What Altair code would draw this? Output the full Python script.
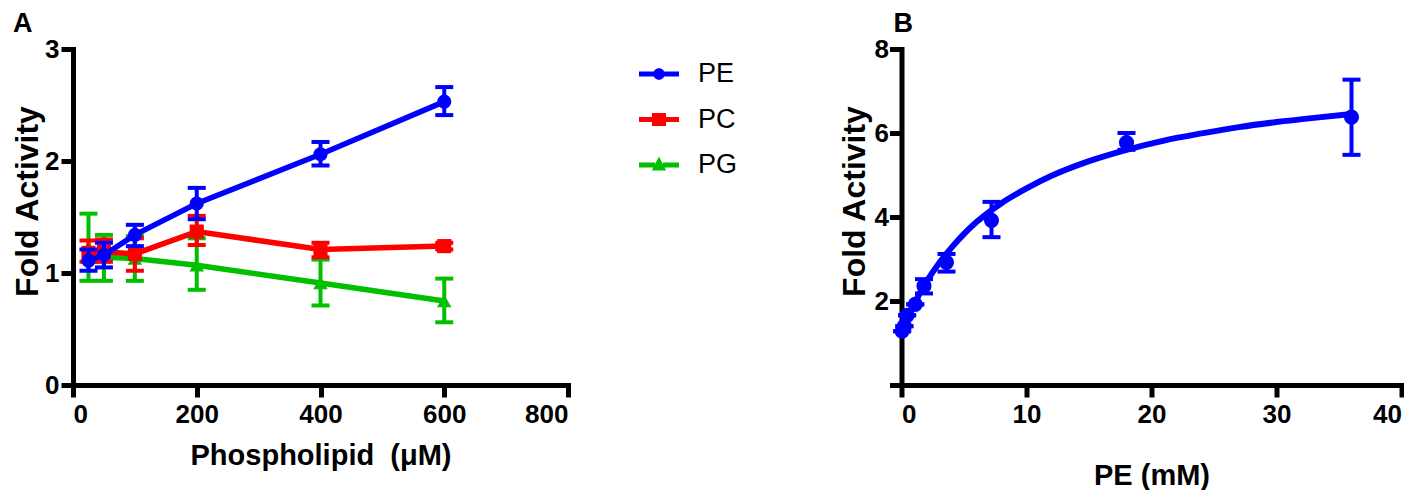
import altair as alt
import pandas as pd

# ---------------- data: panel A ----------------
conc_a = [25, 50, 100, 200, 400, 600]
pe_mean = [1.11, 1.16, 1.34, 1.62, 2.06, 2.53]
pe_lo = [1.02, 1.05, 1.24, 1.48, 1.96, 2.41]
pe_hi = [1.21, 1.27, 1.43, 1.76, 2.17, 2.66]
pc_mean = [1.18, 1.19, 1.17, 1.37, 1.21, 1.24]
pc_lo = [1.10, 1.10, 1.02, 1.25, 1.14, 1.21]
pc_hi = [1.29, 1.30, 1.31, 1.51, 1.27, 1.27]
pg_mean = [1.23, 1.14, 1.13, 1.07, 0.91, 0.75]
pg_lo = [0.93, 0.93, 0.93, 0.85, 0.71, 0.56]
pg_hi = [1.53, 1.34, 1.33, 1.31, 1.12, 0.95]
series_names = ["PE", "PC", "PG"]
series_colors = ["#0000FF", "#FF0000", "#00C000"]

# ---------------- data: panel B ----------------
pe_conc = [0.05, 0.23, 0.45, 1.1, 1.8, 3.6, 7.2, 18, 36]
pe_act = [1.28, 1.40, 1.66, 1.92, 2.36, 2.92, 3.92, 5.77, 6.38]
pe_act_lo = [1.28, 1.40, 1.66, 1.92, 2.18, 2.70, 3.52, 5.60, 5.48]
pe_act_hi = [1.28, 1.40, 1.66, 1.92, 2.52, 3.12, 4.36, 6.00, 7.27]
fit_x = [0, 0.5, 1, 2, 3, 4, 5, 6, 8, 10, 12, 15, 18, 21, 24, 27, 30, 33, 36]
fit_y = [1.25, 1.60, 1.92, 2.46, 2.90, 3.27, 3.60, 3.88, 4.33, 4.68, 4.98,
         5.33, 5.60, 5.82, 5.99, 6.14, 6.26, 6.36, 6.45]

FONT = "Liberation Sans"

rows = []
for name, m, lo, hi in [("PE", pe_mean, pe_lo, pe_hi),
                        ("PC", pc_mean, pc_lo, pc_hi),
                        ("PG", pg_mean, pg_lo, pg_hi)]:
    for c, a, b, d in zip(conc_a, m, lo, hi):
        rows.append({"series": name, "conc": c, "mean": a, "lo": b, "hi": d})
df_a = pd.DataFrame(rows)

df_b = pd.DataFrame({"conc": pe_conc, "act": pe_act, "lo": pe_act_lo, "hi": pe_act_hi})
df_fit = pd.DataFrame({"conc": fit_x, "act": fit_y})

axis_style = dict(
    domainColor="#000000", domainWidth=5, domainCap="square", domainOpacity=1,
    tickColor="#000000", tickWidth=5, tickSize=12, tickOpacity=1,
    labelFont=FONT, labelFontWeight="bold", labelFontSize=26, labelColor="black",
    titleFont=FONT, titleFontWeight="bold", titleColor="black",
    grid=False,
)

# ---------------- panel A ----------------
xs_a = alt.Scale(domain=[0, 800], nice=False, zero=True)
ys_a = alt.Scale(domain=[0, 3], nice=False, zero=True)
ax_xa = alt.Axis(values=[0, 200, 400, 600, 800], format="d", labelPadding=4,
                 titlePadding=14, titleFontSize=29, **axis_style)
ax_ya = alt.Axis(values=[0, 1, 2, 3], format="d", labelPadding=2,
                 titlePadding=0, titleFontSize=32, titleY=152, **axis_style)


def XA():
    return alt.X("conc:Q", scale=xs_a, axis=ax_xa, title="Phospholipid\u00a0 (μM)")


def YA(field):
    return alt.Y(f"{field}:Q", scale=ys_a, axis=ax_ya, title="Fold Activity")


def series_layers(name, color, shape, size):
    base = alt.Chart(df_a).transform_filter(alt.datum.series == name)
    err = base.mark_rule(color=color, strokeWidth=4, opacity=1).encode(
        x=XA(), y=YA("lo"), y2="hi:Q")
    cap_hi = base.mark_tick(color=color, orient="horizontal", size=18, thickness=4,
                            opacity=1).encode(x=XA(), y=YA("hi"))
    cap_lo = base.mark_tick(color=color, orient="horizontal", size=18, thickness=4,
                            opacity=1).encode(x=XA(), y=YA("lo"))
    line = base.mark_line(color=color, strokeWidth=5.5).encode(x=XA(), y=YA("mean"))
    pts = base.mark_point(filled=True, shape=shape, size=size, color=color,
                          opacity=1, strokeWidth=0).encode(x=XA(), y=YA("mean"))
    return [err, cap_hi, cap_lo, line, pts]


# legend symbols: line with marker in the middle
bar_l = "M-1,-0.12H-0.2V0.12H-1Z"
bar_r = "M0.2,-0.12H1V0.12H0.2Z"
sym_circle = bar_l + " " + bar_r + " M-0.29,0A0.29,0.29 0 1,1 0.29,0A0.29,0.29 0 1,1 -0.29,0Z"
sym_square = bar_l + " " + bar_r + " M-0.35,-0.33H0.35V0.33H-0.35Z"
sym_tri = bar_l + " " + bar_r + " M0,-0.42L0.36,0.28H-0.36Z"

legend_def = alt.Legend(
    orient="none", legendX=566, legendY=5, title=None,
    symbolSize=1600, symbolOpacity=1, symbolStrokeWidth=0,
    labelFont=FONT, labelFontSize=27, labelColor="black", labelOffset=19,
    rowPadding=12.5, padding=0,
)
legend_layer = alt.Chart(df_a).mark_point(filled=True, opacity=0, size=1600).encode(
    x=XA(), y=YA("mean"),
    color=alt.Color("series:N", scale=alt.Scale(domain=series_names, range=series_colors),
                    legend=legend_def),
    shape=alt.Shape("series:N", scale=alt.Scale(domain=series_names,
                                                range=[sym_circle, sym_square, sym_tri]),
                    legend=legend_def),
)

layers_a = []
layers_a += series_layers("PG", "#00C000", "triangle-up", 210)
layers_a += series_layers("PC", "#FF0000", "square", 200)
layers_a += series_layers("PE", "#0000FF", "circle", 200)
layers_a.append(legend_layer)

panel_a = alt.layer(*layers_a).properties(
    width=495, height=336,
    title=alt.TitleParams("A", anchor="start", frame="group", dx=-60, offset=-2,
                          font=FONT, fontSize=27, fontWeight="bold", color="black"),
)

# ---------------- panel B ----------------
xs_b = alt.Scale(domain=[0, 40], nice=False, zero=True)
ys_b = alt.Scale(domain=[0, 8], nice=False, zero=True)
ax_xb = alt.Axis(values=[0, 10, 20, 30, 40], format="d", labelPadding=4,
                 titlePadding=34, titleFontSize=29, **axis_style)
ax_yb = alt.Axis(values=[0, 2, 4, 6, 8], format="d", labelPadding=1,
                 labelExpr="datum.value == 0 ? '' : datum.label",
                 titlePadding=2.5, titleFontSize=32, titleY=152, **axis_style)


def XB():
    return alt.X("conc:Q", scale=xs_b, axis=ax_xb, title="PE (mM)")


def YB(field):
    return alt.Y(f"{field}:Q", scale=ys_b, axis=ax_yb, title="Fold Activity")


blue = "#0000FF"
b_err = alt.Chart(df_b).mark_rule(color=blue, strokeWidth=4, opacity=1).encode(
    x=XB(), y=YB("lo"), y2="hi:Q")
b_cap_hi = alt.Chart(df_b).mark_tick(color=blue, orient="horizontal", size=18, thickness=4,
                                     opacity=1).encode(x=XB(), y=YB("hi"))
b_cap_lo = alt.Chart(df_b).mark_tick(color=blue, orient="horizontal", size=18, thickness=4,
                                     opacity=1).encode(x=XB(), y=YB("lo"))
b_fit = alt.Chart(df_fit).mark_line(color=blue, strokeWidth=6, interpolate="monotone").encode(
    x=XB(), y=YB("act"))
b_pts = alt.Chart(df_b).mark_point(filled=True, shape="circle", size=230, color=blue,
                                   opacity=1, strokeWidth=0).encode(x=XB(), y=YB("act"))

panel_b = alt.layer(b_err, b_cap_hi, b_cap_lo, b_fit, b_pts).properties(
    width=500, height=336,
    title=alt.TitleParams("B", anchor="start", frame="group", dx=-8, offset=-2,
                          font=FONT, fontSize=27, fontWeight="bold", color="black"),
)

chart = alt.hconcat(panel_a, panel_b, spacing=333.5, bounds="flush").properties(
    padding={"left": 3, "top": 2, "right": 0, "bottom": 0},
    background="white",
).configure_view(stroke=None).configure_axis(
    domainColor="#000000", domainWidth=5, tickColor="#000000", tickWidth=5
)

chart.save("out.html", embed_options={"renderer": "svg", "actions": False})
